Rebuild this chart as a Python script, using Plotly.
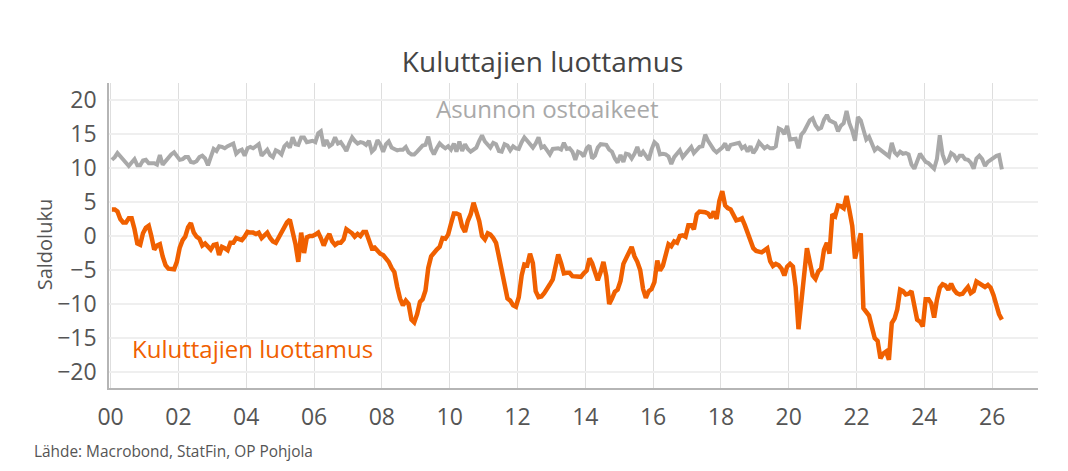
import pandas as pd
import plotly.graph_objects as go

# ============================================================
# Data (monthly, Jan 2000 - Apr 2026)
# ============================================================
start_month = "2000-01-01"

# Kuluttajien luottamus (one row per year)
confidence = [
    3.9, 3.9, 3.6, 2.5, 2.0, 2.0, 2.6, 2.6, 1.0, -1.1, -1.3, 0.4,          # 2000
    1.2, 1.5, 0.0, -2.0, -1.4, -1.2, -3.0, -4.3, -4.8, -4.9, -4.9, -3.8,   # 2001
    -1.7, -0.6, -0.1, 1.3, 1.9, 0.5, -0.1, -0.4, -1.4, -1.1, -1.6, -2.0,   # 2002
    -1.3, -1.2, -2.8, -1.6, -1.8, -2.1, -1.0, -1.0, -0.3, -0.4, -0.6, -0.1,  # 2003
    0.6, 0.5, 0.5, 0.3, 0.5, -0.3, 0.2, 0.5, -0.3, -0.8, -1.0, -0.3,       # 2004
    0.6, 1.4, 2.0, 2.4, 0.8, -1.2, -3.8, 0.5, -2.5, -0.2, 0.0, 0.0,        # 2005
    0.2, 0.5, -0.3, -1.4, -0.4, 0.3, -0.8, -1.3, -1.0, -1.0, -0.5, 1.0,    # 2006
    0.7, 0.4, -0.1, 0.3, 0.0, 0.6, 0.6, -0.7, -1.8, -1.7, -2.3, -2.6,      # 2007
    -2.8, -3.2, -3.8, -4.7, -5.3, -7.5, -9.2, -10.2, -9.5, -10.0, -12.3, -12.7,  # 2008
    -11.5, -9.7, -9.3, -8.0, -4.7, -3.0, -2.4, -2.0, -1.6, -0.3, -0.4, 0.2,  # 2009
    1.8, 3.3, 3.3, 3.1, 1.4, 0.6, 2.2, 3.2, 4.9, 3.5, 2.2, 0.0,            # 2010
    -0.5, 0.4, 0.2, -0.3, -1.0, -3.0, -5.3, -7.2, -9.2, -9.5, -10.2, -10.4,  # 2011
    -9.0, -5.8, -4.2, -4.3, -2.6, -4.0, -8.1, -9.0, -8.9, -8.4, -7.6, -7.1,  # 2012
    -6.4, -4.0, -2.7, -4.0, -5.5, -5.4, -5.4, -5.9, -5.9, -5.9, -6.0, -5.5,  # 2013
    -5.1, -3.3, -4.0, -5.3, -6.5, -5.3, -3.8, -5.9, -10.0, -9.2, -8.2, -7.9,  # 2014
    -6.6, -4.1, -3.3, -2.5, -1.6, -3.0, -3.8, -5.0, -7.8, -9.1, -8.1, -7.8,  # 2015
    -6.8, -3.6, -5.1, -4.4, -3.0, -1.2, -1.5, -0.8, -1.0, 0.0, 0.1, -0.1,  # 2016
    1.6, 1.6, 1.0, 3.2, 3.6, 3.6, 3.5, 3.3, 2.7, 3.6, 2.5, 5.2,            # 2017
    6.6, 4.5, 4.1, 3.9, 2.9, 2.3, 2.4, 2.6, 1.6, 0.6, -0.8, -1.8,          # 2018
    -2.2, -2.4, -2.4, -2.1, -1.8, -3.7, -4.4, -4.1, -4.3, -4.8, -5.8, -4.5,  # 2019
    -4.1, -4.5, -7.5, -13.7, -9.5, -4.3, -1.8, -3.8, -5.8, -6.3, -5.2, -4.8,  # 2020
    -2.0, -1.0, -2.6, 3.2, 2.9, 4.5, 4.4, 4.1, 5.9, 3.8, 1.5, -3.3,        # 2021
    -1.5, 0.4, -10.6, -11.3, -11.7, -13.4, -15.0, -15.4, -18.0, -17.3, -17.0, -18.2,  # 2022
    -12.8, -12.1, -10.8, -7.9, -8.1, -8.6, -8.5, -8.1, -10.0, -12.3, -12.6, -13.3,  # 2023
    -9.3, -9.3, -9.9, -12.0, -9.4, -7.6, -7.1, -7.3, -7.9, -7.0, -7.9, -8.4,  # 2024
    -8.6, -8.5, -8.0, -7.5, -8.4, -8.1, -6.7, -7.0, -7.4, -7.5, -7.2, -7.6,  # 2025
    -8.7, -10.4, -11.5, -12.3,                                             # 2026
]

# Asunnon ostoaikeet (one row per year)
housing = [
    11.2, 11.6, 12.2, 11.7, 11.3, 10.8, 10.3, 10.8, 11.3, 10.4, 10.4, 11.1,  # 2000
    11.2, 10.7, 10.7, 10.7, 10.5, 11.9, 10.5, 11.0, 11.7, 12.0, 12.3, 11.8,  # 2001
    11.2, 11.3, 11.6, 11.6, 10.9, 10.8, 11.0, 11.6, 11.8, 11.4, 10.4, 11.6,  # 2002
    12.8, 12.5, 13.2, 13.1, 12.9, 13.2, 13.4, 13.6, 12.1, 12.5, 12.7, 11.8,  # 2003
    12.9, 13.1, 12.9, 13.2, 13.5, 11.8, 12.2, 12.7, 11.9, 11.6, 12.6, 12.4,  # 2004
    12.0, 13.2, 13.6, 13.0, 14.5, 13.5, 13.4, 14.5, 14.5, 13.8, 13.9, 14.0,  # 2005
    13.8, 15.1, 15.4, 13.2, 14.1, 13.2, 13.5, 14.5, 13.6, 13.8, 13.2, 12.5,  # 2006
    13.6, 14.5, 14.0, 13.6, 13.8, 13.7, 13.4, 14.0, 12.4, 12.8, 14.1, 13.5,  # 2007
    12.4, 13.5, 13.9, 13.0, 12.8, 12.6, 12.7, 12.7, 13.1, 12.3, 12.0, 12.0,  # 2008
    12.4, 12.8, 13.3, 13.4, 14.6, 12.8, 12.0, 12.9, 13.6, 13.2, 12.9, 13.2,  # 2009
    12.7, 13.6, 12.4, 13.9, 12.5, 13.5, 12.8, 12.4, 12.8, 13.0, 14.0, 14.8,  # 2010
    13.9, 13.3, 13.0, 13.7, 13.5, 12.5, 12.4, 13.5, 13.3, 12.6, 13.2, 12.9,  # 2011
    12.8, 13.8, 14.5, 14.0, 13.6, 13.0, 13.6, 14.5, 13.0, 13.2, 12.6, 12.0,  # 2012
    12.8, 12.8, 12.9, 12.7, 13.7, 12.8, 12.9, 12.4, 11.2, 12.4, 12.2, 11.7,  # 2013
    12.9, 13.3, 11.4, 11.8, 13.0, 13.5, 13.5, 13.4, 12.7, 12.4, 11.4, 10.8,  # 2014
    11.9, 10.9, 12.1, 12.0, 11.4, 12.1, 13.1, 11.8, 12.4, 11.8, 11.2, 12.7,  # 2015
    13.8, 13.4, 12.0, 12.1, 12.0, 11.7, 10.6, 11.6, 12.1, 12.6, 11.6, 12.1,  # 2016
    12.6, 13.1, 12.2, 12.7, 13.1, 13.2, 14.9, 14.0, 13.3, 12.7, 12.3, 12.6,  # 2017
    13.0, 13.6, 12.6, 13.4, 13.5, 13.5, 13.7, 12.9, 13.2, 12.4, 13.2, 12.2,  # 2018
    12.8, 13.8, 13.3, 12.9, 13.2, 12.9, 12.9, 13.2, 15.8, 15.6, 15.0, 16.2,  # 2019
    14.2, 14.3, 14.3, 12.9, 14.9, 15.4, 16.1, 17.0, 17.3, 16.3, 15.7, 15.9,  # 2020
    17.1, 17.8, 17.0, 16.8, 16.6, 15.4, 16.2, 16.6, 18.4, 16.6, 15.5, 14.0,  # 2021
    17.5, 17.0, 15.4, 14.2, 14.6, 13.6, 12.6, 13.0, 12.7, 12.4, 12.0, 11.7,  # 2022
    13.7, 12.3, 11.9, 12.4, 12.1, 12.2, 12.0, 10.5, 9.9, 10.9, 12.1, 11.5,   # 2023
    10.9, 10.7, 10.4, 9.9, 11.3, 14.8, 12.0, 10.8, 11.1, 12.2, 11.9, 11.2,   # 2024
    11.8, 11.8, 11.3, 11.2, 10.8, 9.9, 11.4, 11.8, 11.3, 10.3, 10.9, 11.2,   # 2025
    11.5, 11.8, 11.9, 9.8,                                                   # 2026
]

y_ticks = [-20, -15, -10, -5, 0, 5, 10, 15, 20]

dates = pd.date_range(start_month, periods=len(confidence), freq="MS") + pd.Timedelta(days=14)

ORANGE = "#f06000"
GREY = "#a9a9a9"
TEXT = "#555555"
FONT = "Open Sans"

# ============================================================
# Figure
# ============================================================
fig = go.Figure()
fig.add_trace(go.Scatter(x=dates, y=housing, mode="lines", name="Asunnon ostoaikeet",
                         line=dict(color=GREY, width=4)))
fig.add_trace(go.Scatter(x=dates, y=confidence, mode="lines", name="Kuluttajien luottamus",
                         line=dict(color=ORANGE, width=4.5)))

fig.update_layout(
    width=1068, height=471,
    margin=dict(l=109, r=30, t=83, b=83),
    paper_bgcolor="white", plot_bgcolor="white",
    showlegend=False,
    font=dict(family=FONT, color=TEXT),
    title=dict(text="Kuluttajien luottamus", x=0.508, xanchor="center",
               y=0.868, yanchor="middle", font=dict(size=28, color="#444444")),
)

fig.update_xaxes(
    type="date", range=["1999-12-15", "2027-05-09"],
    tick0="2000-01-01", dtick="M24", tickformat="%y",
    showgrid=True, gridcolor="#dedede", gridwidth=1,
    showline=True, linecolor="#b5b5b5", linewidth=1.5,
    ticks="", ticklabelstandoff=8,
    tickfont=dict(size=23, color=TEXT),
)
fig.update_yaxes(
    range=[-22.35, 22.5], tickvals=y_ticks,
    showgrid=True, gridcolor="#efefef", gridwidth=2,
    zeroline=False,
    showline=True, linecolor="#b5b5b5", linewidth=1.5,
    ticks="", ticklabelstandoff=6,
    tickfont=dict(size=23, color=TEXT),
)

# series labels
fig.add_annotation(text="Asunnon ostoaikeet", xref="paper", yref="paper",
                   x=0.4715, y=0.918, xanchor="center", yanchor="middle",
                   showarrow=False, font=dict(size=24, color=GREY))
fig.add_annotation(text="Kuluttajien luottamus", xref="paper", yref="paper",
                   x=0.155, y=0.131, xanchor="center", yanchor="middle",
                   showarrow=False, font=dict(size=24, color=ORANGE))

# axis title and source
fig.add_annotation(text="Saldoluku", xref="paper", yref="paper",
                   x=-0.0685, y=0.469, xanchor="center", yanchor="middle",
                   textangle=-90, showarrow=False, font=dict(size=20, color=TEXT))
fig.add_annotation(text="Lähde: Macrobond, StatFin, OP Pohjola", xref="paper", yref="paper",
                   x=-0.0825, y=-0.209, xanchor="left", yanchor="middle",
                   showarrow=False, font=dict(size=15.4, color=TEXT))

# page body has a default margin; drop it so the figure sits at 0,0
fig.write_html("out.html", config={"displayModeBar": False},
               post_script="document.body.style.margin='0';")
